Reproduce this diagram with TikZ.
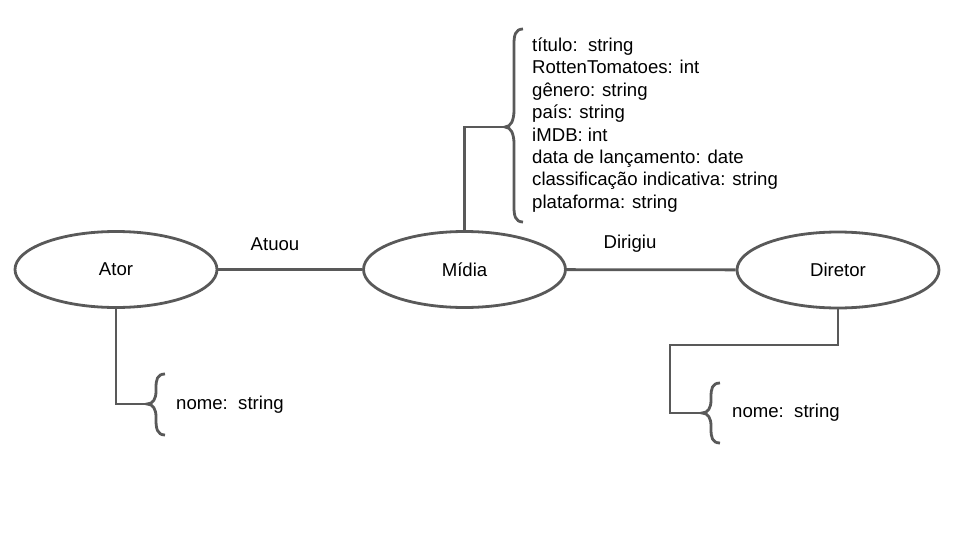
\documentclass[tikz,border=0pt]{standalone}
\usepackage{fontspec}
\setmainfont{Liberation Sans}
\usetikzlibrary{shapes.geometric, calc}
\definecolor{lineGray}{RGB}{89, 89, 89}

\begin{document}
\begin{tikzpicture}[x=1pt, y=-1pt, font=\fontsize{18.6}{22.4}\selectfont,
    entity/.style={ellipse, draw=lineGray, line width=2.8pt, minimum width=202pt, minimum height=76pt},
    link/.style={draw=lineGray, line width=2.8pt},
    attrs/.style={anchor=west, align=left, inner sep=0pt}]
  \useasboundingbox (0,0) rectangle (960,540);
  % Entities
  \node[entity] (ator) at (116, 269.5) {Ator};
  \node[entity] (midia) at (464.5, 269.5) {Mídia};
  \node[entity] (diretor) at (838, 270) {Diretor};
  % Relations
  \draw[link] (ator) -- (midia);
  \draw[link] (midia) -- (diretor);
  \node (atuou) at (275, 244) {Atuou};
  \node (dirigiu) at (630, 244) {Dirigiu};
  % Midia attributes
  \coordinate (midiaBrace) at (505, 127);
  \draw[link] (midia.north) |- (midiaBrace);
  \draw[link] (523,29) .. controls (515,29) and (514,36) .. (514,44) -- (514,110)
    .. controls (514,120) and (511,127) .. (midiaBrace) .. controls (511,127) and (514,134) .. (514,144)
    -- (514,207) .. controls (514,215) and (515,222) .. (523,222);
  \node[attrs] (midiaAttrs) at (532, 125) {título:\ \ string\\ RottenTomatoes: int\\ gênero: string\\ país: string\\ iMDB: int\\ data de lançamento: date\\ classificação indicativa: string\\ plataforma: string};
  % Ator attributes
  \coordinate (atorBrace) at (147, 404);
  \draw[link] (ator.south) |- (atorBrace);
  \draw[link] (165,374) .. controls (157,374) and (156,380) .. (156,388) -- (156,391)
    .. controls (156,399) and (153,404) .. (atorBrace) .. controls (153,404) and (156,409) .. (156,417)
    -- (156,420) .. controls (156,428) and (157,435) .. (165,435);
  \node[attrs] (atorAttrs) at (176, 405) {nome:\ \ string};
  % Diretor attributes
  \coordinate (diretorBrace) at (702, 413);
  \draw[link] (diretor.south) |- (670, 345) |- (diretorBrace);
  \draw[link] (720,383) .. controls (712,383) and (711,389) .. (711,397) -- (711,400)
    .. controls (711,408) and (708,413) .. (diretorBrace) .. controls (708,413) and (711,418) .. (711,426)
    -- (711,429) .. controls (711,437) and (712,443) .. (720,443);
  \node[attrs] (diretorAttrs) at (732, 413) {nome:\ \ string};
\end{tikzpicture}
\end{document}
